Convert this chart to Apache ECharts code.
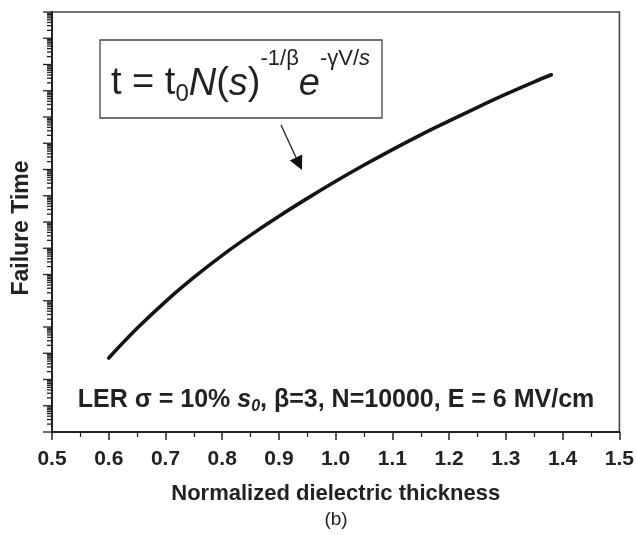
<!DOCTYPE html>
<html><head><meta charset="utf-8">
<script src="https://cdn.jsdelivr.net/npm/echarts@6/dist/echarts.min.js"></script>
<style>html,body{margin:0;padding:0;background:#fff}#c{width:637px;height:535px}</style>
</head><body><div id="c"></div>
<script>
// Normalized dielectric thickness (x) and failure time (log scale, arbitrary units)
const thickness = [0.60, 0.65, 0.70, 0.75, 0.80, 0.85, 0.90, 0.95, 1.00, 1.05, 1.10, 1.15, 1.20, 1.25, 1.30, 1.35, 1.38];
const failureTime = [6.61e2, 8.91e3, 9.33e4, 7.76e5, 5.37e6, 3.16e7, 1.66e8, 7.94e8, 3.55e9, 1.48e10, 5.75e10, 2.09e11, 7.08e11, 2.34e12, 7.41e12, 2.19e13, 4.07e13];
const xTickLabels = ['0.5', '0.6', '0.7', '0.8', '0.9', '1.0', '1.1', '1.2', '1.3', '1.4', '1.5'];
const yDecadeMin = 0, yDecadeMax = 16;

const xMin = parseFloat(xTickLabels[0]), xMax = parseFloat(xTickLabels[xTickLabels.length - 1]);
const FONT = '"Liberation Sans", Arial, Helvetica, sans-serif';

// y-axis tick marks (log: major per decade, minor at 2..9)
const yTicks = [];
for (let d = yDecadeMin; d <= yDecadeMax; d++) {
  yTicks.push([xMin, Math.pow(10, d), 1]);
  if (d < yDecadeMax) for (let k = 2; k <= 9; k++) yTicks.push([xMin, k * Math.pow(10, d), 0]);
}

const chart = echarts.init(document.getElementById('c'), null, {renderer: 'canvas'});
chart.setOption({
  animation: false,
  backgroundColor: '#fff',
  grid: {left: 52, right: 17, top: 12, bottom: 103, show: true, borderColor: '#444', borderWidth: 1.6, backgroundColor: 'transparent'},
  xAxis: {
    type: 'value', min: xMin, max: xMax, interval: 0.1,
    name: 'Normalized dielectric thickness', nameLocation: 'middle', nameGap: 51,
    nameTextStyle: {fontFamily: FONT, fontWeight: 'bold', fontSize: 22, color: '#222'},
    axisLine: {lineStyle: {color: '#222', width: 2}},
    axisTick: {show: true, inside: false, length: 8, lineStyle: {color: '#222', width: 1.5}},
    minorTick: {show: true, splitNumber: 2, length: 5, lineStyle: {color: '#222', width: 1.2}},
    splitLine: {show: false},
    axisLabel: {fontFamily: FONT, fontWeight: 'bold', fontSize: 21, color: '#222', margin: 17,
      formatter: v => xTickLabels[Math.round((v - xMin) * 10)] || ''}
  },
  yAxis: {
    type: 'log', logBase: 10, min: Math.pow(10, yDecadeMin), max: Math.pow(10, yDecadeMax),
    name: 'Failure Time', nameLocation: 'middle', nameGap: 19,
    nameTextStyle: {fontFamily: FONT, fontWeight: 'bold', fontSize: 23, color: '#222', padding: [0, 12, 0, 0]},
    axisLine: {lineStyle: {color: '#222', width: 2}},
    axisTick: {show: false}, axisLabel: {show: false}, splitLine: {show: false}
  },
  series: [
    {type: 'line', data: thickness.map((x, i) => [x, failureTime[i]]), smooth: 0.4, showSymbol: false,
     lineStyle: {color: '#151515', width: 3.6, cap: 'round'}, z: 3},
    {type: 'custom', data: yTicks, clip: false, silent: true, z: 4,
     encode: {x: 0, y: 1},
     renderItem: (params, api) => {
       const p = api.coord([api.value(0), api.value(1)]);
       const len = api.value(2) ? 9 : 5;
       return {type: 'line', shape: {x1: p[0] - len, y1: p[1], x2: p[0], y2: p[1]},
               style: {stroke: '#222', lineWidth: 1.3}};
     }}
  ],
  graphic: [
    {type: 'rect', shape: {x: 100, y: 40, width: 282, height: 78}, style: {fill: '#fff', stroke: '#444', lineWidth: 1.3}, z: 10},
    {type: 'text', x: 111, y: 84, z: 11, style: {
      text: '{n|t = t}{sub|0}{i|N}{n|(}{i|s}{n|)}{sup|-1/β}{i|e}{sup|-γV/}{supi|s}',
      fontFamily: FONT, verticalAlign: 'middle', fill: '#222',
      rich: {
        n: {fontFamily: FONT, fontSize: 38, fill: '#222', verticalAlign: 'middle', lineHeight: 73},
        i: {fontFamily: FONT, fontSize: 38, fontStyle: 'italic', fill: '#222', verticalAlign: 'middle', lineHeight: 73},
        sub: {fontFamily: FONT, fontSize: 24, fill: '#222', verticalAlign: 'middle', padding: [20, 0, 0, 0]},
        sup: {fontFamily: FONT, fontSize: 22, fill: '#222', verticalAlign: 'top', lineHeight: 22},
        supi: {fontFamily: FONT, fontSize: 22, fontStyle: 'italic', fill: '#222', verticalAlign: 'top', lineHeight: 22}
      }}},
    {type: 'line', shape: {x1: 281, y1: 125, x2: 296, y2: 157.5}, style: {stroke: '#222', lineWidth: 1.3}, z: 11},
    {type: 'polygon', shape: {points: [[302, 170], [289.8, 160.6], [302.2, 154.6]]}, style: {fill: '#111'}, z: 11},
    {type: 'text', x: 336, y: 400, z: 11, style: {
      text: '{b|LER σ = 10% }{bi|s}{bs|0}{b|, β=3, N=10000, E = 6 MV/cm}',
      align: 'center', verticalAlign: 'middle',
      rich: {
        b: {fontFamily: FONT, fontSize: 25, fontWeight: 'bold', fill: '#222', verticalAlign: 'middle', lineHeight: 30},
        bi: {fontFamily: FONT, fontSize: 25, fontWeight: 'bold', fontStyle: 'italic', fill: '#222', verticalAlign: 'middle', lineHeight: 30},
        bs: {fontFamily: FONT, fontSize: 16, fontWeight: 'bold', fontStyle: 'italic', fill: '#222', verticalAlign: 'bottom', lineHeight: 20}
      }}},
    {type: 'text', x: 336, y: 520, z: 11, style: {text: '(b)', fontFamily: FONT, fontSize: 19, fill: '#222', align: 'center', verticalAlign: 'middle'}}
  ]
});
</script>
</body></html>
